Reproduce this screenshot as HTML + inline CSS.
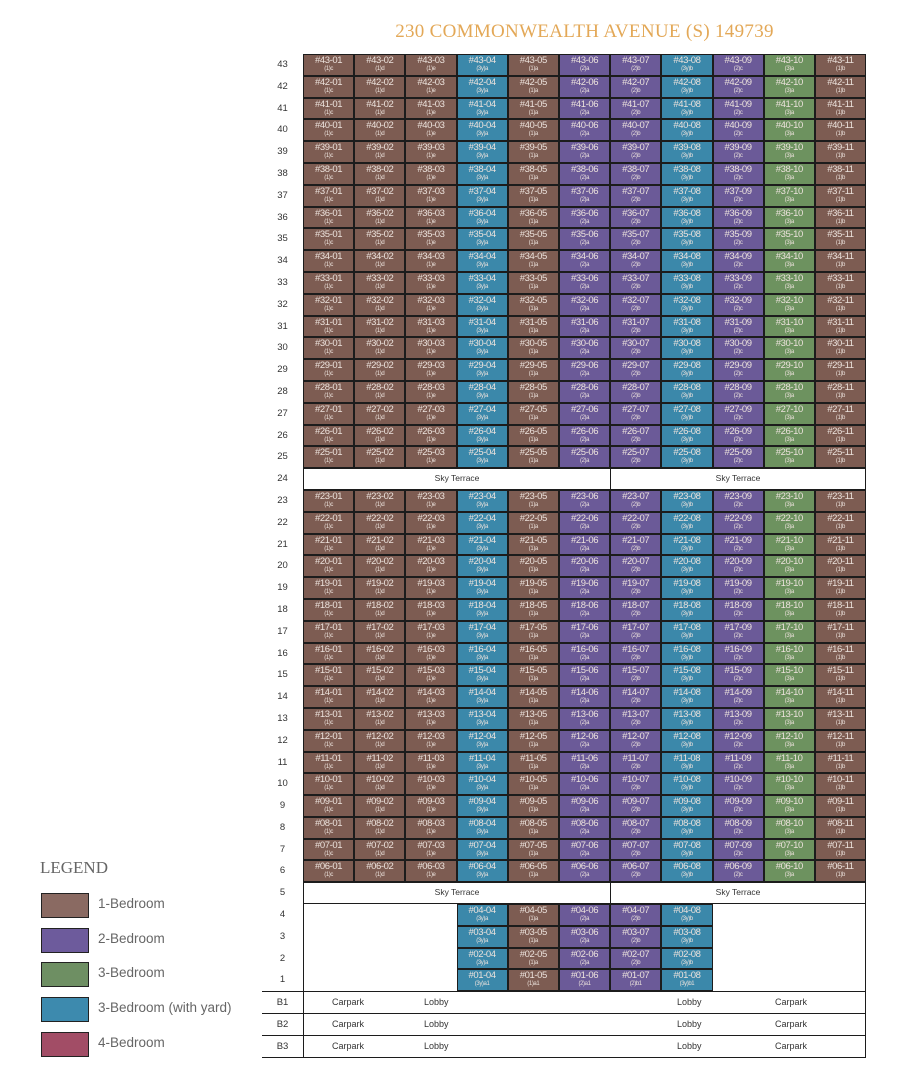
<!DOCTYPE html>
<html><head><meta charset="utf-8"><style>
body{margin:0;background:#fff;width:900px;height:1072px;position:relative;overflow:hidden;font-family:"Liberation Sans",sans-serif}
#t{position:absolute;left:303px;width:563px;top:21px;text-align:center;font-family:"Liberation Serif",serif;color:#e3a857;font-size:19px;letter-spacing:.3px}
#g{position:absolute;left:262px;top:54px;width:604px}
.r{display:flex;height:21.8px;box-sizing:border-box}
.r b{width:41px;flex:none;font-size:9.5px;font-weight:normal;color:#333;text-align:center;line-height:21px}
.r i{flex:1;box-sizing:border-box;border:1px solid #1c1c1c;font-style:normal;color:#ece2dc;font-size:9.5px;text-align:center;line-height:10px;padding-top:1px;letter-spacing:-.4px;overflow:hidden}
.r i s{display:block;text-decoration:none;font-size:6px;line-height:7px}
.a{background:#7d5c52}.p{background:#6b5a98}.g{background:#6d925f}.y{background:#3b88aa}
.sk{flex:1;display:flex;border:1px solid #1c1c1c;border-bottom:1.5px solid #1c1c1c;box-sizing:border-box}
.sk span{box-sizing:border-box;text-align:center;font-size:8.5px;color:#333;line-height:19px}
.sk span:first-child{width:307.1px;border-right:1.5px solid #1c1c1c}
.sk span:last-child{flex:1}
.r em{display:block;width:153.5px;flex:none;box-sizing:border-box}
.r em.l{border-left:1.5px solid #1c1c1c}.r em.rr{border-right:1.5px solid #1c1c1c}
.bs{border-bottom:1.5px solid #1c1c1c;position:relative;height:22.3px}
.bs b{border-right:1.5px solid #1c1c1c}
.bs div{flex:1;border-right:1.5px solid #1c1c1c;position:relative;font-size:9px;color:#333}
.bs div span{position:absolute;top:5px}
.f{border-top:1.5px solid #1c1c1c}
#lg{position:absolute;left:40px;top:858px;font-family:"Liberation Sans",sans-serif}
#lg h{display:block;font-size:17px;color:#666;font-family:"Liberation Serif",serif;margin-bottom:12px}
.li{position:absolute;left:1px;width:48px;height:25px;box-sizing:border-box;border:1.5px solid #222}
.lt{position:absolute;left:58px;font-size:13.5px;color:#666;white-space:nowrap}
</style></head><body>
<div id="t">230 COMMONWEALTH AVENUE (S) 149739</div>
<div id="g">
<div class=r><b>43</b><i class=a>#43-01<s>(1)c</s></i><i class=a>#43-02<s>(1)d</s></i><i class=a>#43-03<s>(1)e</s></i><i class=y>#43-04<s>(3y)a</s></i><i class=a>#43-05<s>(1)a</s></i><i class=p>#43-06<s>(2)a</s></i><i class=p>#43-07<s>(2)b</s></i><i class=y>#43-08<s>(3y)b</s></i><i class=p>#43-09<s>(2)c</s></i><i class=g>#43-10<s>(3)a</s></i><i class=a>#43-11<s>(1)b</s></i></div>
<div class=r><b>42</b><i class=a>#42-01<s>(1)c</s></i><i class=a>#42-02<s>(1)d</s></i><i class=a>#42-03<s>(1)e</s></i><i class=y>#42-04<s>(3y)a</s></i><i class=a>#42-05<s>(1)a</s></i><i class=p>#42-06<s>(2)a</s></i><i class=p>#42-07<s>(2)b</s></i><i class=y>#42-08<s>(3y)b</s></i><i class=p>#42-09<s>(2)c</s></i><i class=g>#42-10<s>(3)a</s></i><i class=a>#42-11<s>(1)b</s></i></div>
<div class=r><b>41</b><i class=a>#41-01<s>(1)c</s></i><i class=a>#41-02<s>(1)d</s></i><i class=a>#41-03<s>(1)e</s></i><i class=y>#41-04<s>(3y)a</s></i><i class=a>#41-05<s>(1)a</s></i><i class=p>#41-06<s>(2)a</s></i><i class=p>#41-07<s>(2)b</s></i><i class=y>#41-08<s>(3y)b</s></i><i class=p>#41-09<s>(2)c</s></i><i class=g>#41-10<s>(3)a</s></i><i class=a>#41-11<s>(1)b</s></i></div>
<div class=r><b>40</b><i class=a>#40-01<s>(1)c</s></i><i class=a>#40-02<s>(1)d</s></i><i class=a>#40-03<s>(1)e</s></i><i class=y>#40-04<s>(3y)a</s></i><i class=a>#40-05<s>(1)a</s></i><i class=p>#40-06<s>(2)a</s></i><i class=p>#40-07<s>(2)b</s></i><i class=y>#40-08<s>(3y)b</s></i><i class=p>#40-09<s>(2)c</s></i><i class=g>#40-10<s>(3)a</s></i><i class=a>#40-11<s>(1)b</s></i></div>
<div class=r><b>39</b><i class=a>#39-01<s>(1)c</s></i><i class=a>#39-02<s>(1)d</s></i><i class=a>#39-03<s>(1)e</s></i><i class=y>#39-04<s>(3y)a</s></i><i class=a>#39-05<s>(1)a</s></i><i class=p>#39-06<s>(2)a</s></i><i class=p>#39-07<s>(2)b</s></i><i class=y>#39-08<s>(3y)b</s></i><i class=p>#39-09<s>(2)c</s></i><i class=g>#39-10<s>(3)a</s></i><i class=a>#39-11<s>(1)b</s></i></div>
<div class=r><b>38</b><i class=a>#38-01<s>(1)c</s></i><i class=a>#38-02<s>(1)d</s></i><i class=a>#38-03<s>(1)e</s></i><i class=y>#38-04<s>(3y)a</s></i><i class=a>#38-05<s>(1)a</s></i><i class=p>#38-06<s>(2)a</s></i><i class=p>#38-07<s>(2)b</s></i><i class=y>#38-08<s>(3y)b</s></i><i class=p>#38-09<s>(2)c</s></i><i class=g>#38-10<s>(3)a</s></i><i class=a>#38-11<s>(1)b</s></i></div>
<div class=r><b>37</b><i class=a>#37-01<s>(1)c</s></i><i class=a>#37-02<s>(1)d</s></i><i class=a>#37-03<s>(1)e</s></i><i class=y>#37-04<s>(3y)a</s></i><i class=a>#37-05<s>(1)a</s></i><i class=p>#37-06<s>(2)a</s></i><i class=p>#37-07<s>(2)b</s></i><i class=y>#37-08<s>(3y)b</s></i><i class=p>#37-09<s>(2)c</s></i><i class=g>#37-10<s>(3)a</s></i><i class=a>#37-11<s>(1)b</s></i></div>
<div class=r><b>36</b><i class=a>#36-01<s>(1)c</s></i><i class=a>#36-02<s>(1)d</s></i><i class=a>#36-03<s>(1)e</s></i><i class=y>#36-04<s>(3y)a</s></i><i class=a>#36-05<s>(1)a</s></i><i class=p>#36-06<s>(2)a</s></i><i class=p>#36-07<s>(2)b</s></i><i class=y>#36-08<s>(3y)b</s></i><i class=p>#36-09<s>(2)c</s></i><i class=g>#36-10<s>(3)a</s></i><i class=a>#36-11<s>(1)b</s></i></div>
<div class=r><b>35</b><i class=a>#35-01<s>(1)c</s></i><i class=a>#35-02<s>(1)d</s></i><i class=a>#35-03<s>(1)e</s></i><i class=y>#35-04<s>(3y)a</s></i><i class=a>#35-05<s>(1)a</s></i><i class=p>#35-06<s>(2)a</s></i><i class=p>#35-07<s>(2)b</s></i><i class=y>#35-08<s>(3y)b</s></i><i class=p>#35-09<s>(2)c</s></i><i class=g>#35-10<s>(3)a</s></i><i class=a>#35-11<s>(1)b</s></i></div>
<div class=r><b>34</b><i class=a>#34-01<s>(1)c</s></i><i class=a>#34-02<s>(1)d</s></i><i class=a>#34-03<s>(1)e</s></i><i class=y>#34-04<s>(3y)a</s></i><i class=a>#34-05<s>(1)a</s></i><i class=p>#34-06<s>(2)a</s></i><i class=p>#34-07<s>(2)b</s></i><i class=y>#34-08<s>(3y)b</s></i><i class=p>#34-09<s>(2)c</s></i><i class=g>#34-10<s>(3)a</s></i><i class=a>#34-11<s>(1)b</s></i></div>
<div class=r><b>33</b><i class=a>#33-01<s>(1)c</s></i><i class=a>#33-02<s>(1)d</s></i><i class=a>#33-03<s>(1)e</s></i><i class=y>#33-04<s>(3y)a</s></i><i class=a>#33-05<s>(1)a</s></i><i class=p>#33-06<s>(2)a</s></i><i class=p>#33-07<s>(2)b</s></i><i class=y>#33-08<s>(3y)b</s></i><i class=p>#33-09<s>(2)c</s></i><i class=g>#33-10<s>(3)a</s></i><i class=a>#33-11<s>(1)b</s></i></div>
<div class=r><b>32</b><i class=a>#32-01<s>(1)c</s></i><i class=a>#32-02<s>(1)d</s></i><i class=a>#32-03<s>(1)e</s></i><i class=y>#32-04<s>(3y)a</s></i><i class=a>#32-05<s>(1)a</s></i><i class=p>#32-06<s>(2)a</s></i><i class=p>#32-07<s>(2)b</s></i><i class=y>#32-08<s>(3y)b</s></i><i class=p>#32-09<s>(2)c</s></i><i class=g>#32-10<s>(3)a</s></i><i class=a>#32-11<s>(1)b</s></i></div>
<div class=r><b>31</b><i class=a>#31-01<s>(1)c</s></i><i class=a>#31-02<s>(1)d</s></i><i class=a>#31-03<s>(1)e</s></i><i class=y>#31-04<s>(3y)a</s></i><i class=a>#31-05<s>(1)a</s></i><i class=p>#31-06<s>(2)a</s></i><i class=p>#31-07<s>(2)b</s></i><i class=y>#31-08<s>(3y)b</s></i><i class=p>#31-09<s>(2)c</s></i><i class=g>#31-10<s>(3)a</s></i><i class=a>#31-11<s>(1)b</s></i></div>
<div class=r><b>30</b><i class=a>#30-01<s>(1)c</s></i><i class=a>#30-02<s>(1)d</s></i><i class=a>#30-03<s>(1)e</s></i><i class=y>#30-04<s>(3y)a</s></i><i class=a>#30-05<s>(1)a</s></i><i class=p>#30-06<s>(2)a</s></i><i class=p>#30-07<s>(2)b</s></i><i class=y>#30-08<s>(3y)b</s></i><i class=p>#30-09<s>(2)c</s></i><i class=g>#30-10<s>(3)a</s></i><i class=a>#30-11<s>(1)b</s></i></div>
<div class=r><b>29</b><i class=a>#29-01<s>(1)c</s></i><i class=a>#29-02<s>(1)d</s></i><i class=a>#29-03<s>(1)e</s></i><i class=y>#29-04<s>(3y)a</s></i><i class=a>#29-05<s>(1)a</s></i><i class=p>#29-06<s>(2)a</s></i><i class=p>#29-07<s>(2)b</s></i><i class=y>#29-08<s>(3y)b</s></i><i class=p>#29-09<s>(2)c</s></i><i class=g>#29-10<s>(3)a</s></i><i class=a>#29-11<s>(1)b</s></i></div>
<div class=r><b>28</b><i class=a>#28-01<s>(1)c</s></i><i class=a>#28-02<s>(1)d</s></i><i class=a>#28-03<s>(1)e</s></i><i class=y>#28-04<s>(3y)a</s></i><i class=a>#28-05<s>(1)a</s></i><i class=p>#28-06<s>(2)a</s></i><i class=p>#28-07<s>(2)b</s></i><i class=y>#28-08<s>(3y)b</s></i><i class=p>#28-09<s>(2)c</s></i><i class=g>#28-10<s>(3)a</s></i><i class=a>#28-11<s>(1)b</s></i></div>
<div class=r><b>27</b><i class=a>#27-01<s>(1)c</s></i><i class=a>#27-02<s>(1)d</s></i><i class=a>#27-03<s>(1)e</s></i><i class=y>#27-04<s>(3y)a</s></i><i class=a>#27-05<s>(1)a</s></i><i class=p>#27-06<s>(2)a</s></i><i class=p>#27-07<s>(2)b</s></i><i class=y>#27-08<s>(3y)b</s></i><i class=p>#27-09<s>(2)c</s></i><i class=g>#27-10<s>(3)a</s></i><i class=a>#27-11<s>(1)b</s></i></div>
<div class=r><b>26</b><i class=a>#26-01<s>(1)c</s></i><i class=a>#26-02<s>(1)d</s></i><i class=a>#26-03<s>(1)e</s></i><i class=y>#26-04<s>(3y)a</s></i><i class=a>#26-05<s>(1)a</s></i><i class=p>#26-06<s>(2)a</s></i><i class=p>#26-07<s>(2)b</s></i><i class=y>#26-08<s>(3y)b</s></i><i class=p>#26-09<s>(2)c</s></i><i class=g>#26-10<s>(3)a</s></i><i class=a>#26-11<s>(1)b</s></i></div>
<div class=r><b>25</b><i class=a>#25-01<s>(1)c</s></i><i class=a>#25-02<s>(1)d</s></i><i class=a>#25-03<s>(1)e</s></i><i class=y>#25-04<s>(3y)a</s></i><i class=a>#25-05<s>(1)a</s></i><i class=p>#25-06<s>(2)a</s></i><i class=p>#25-07<s>(2)b</s></i><i class=y>#25-08<s>(3y)b</s></i><i class=p>#25-09<s>(2)c</s></i><i class=g>#25-10<s>(3)a</s></i><i class=a>#25-11<s>(1)b</s></i></div>
<div class=r><b>24</b><div class=sk><span>Sky Terrace</span><span>Sky Terrace</span></div></div>
<div class=r><b>23</b><i class=a>#23-01<s>(1)c</s></i><i class=a>#23-02<s>(1)d</s></i><i class=a>#23-03<s>(1)e</s></i><i class=y>#23-04<s>(3y)a</s></i><i class=a>#23-05<s>(1)a</s></i><i class=p>#23-06<s>(2)a</s></i><i class=p>#23-07<s>(2)b</s></i><i class=y>#23-08<s>(3y)b</s></i><i class=p>#23-09<s>(2)c</s></i><i class=g>#23-10<s>(3)a</s></i><i class=a>#23-11<s>(1)b</s></i></div>
<div class=r><b>22</b><i class=a>#22-01<s>(1)c</s></i><i class=a>#22-02<s>(1)d</s></i><i class=a>#22-03<s>(1)e</s></i><i class=y>#22-04<s>(3y)a</s></i><i class=a>#22-05<s>(1)a</s></i><i class=p>#22-06<s>(2)a</s></i><i class=p>#22-07<s>(2)b</s></i><i class=y>#22-08<s>(3y)b</s></i><i class=p>#22-09<s>(2)c</s></i><i class=g>#22-10<s>(3)a</s></i><i class=a>#22-11<s>(1)b</s></i></div>
<div class=r><b>21</b><i class=a>#21-01<s>(1)c</s></i><i class=a>#21-02<s>(1)d</s></i><i class=a>#21-03<s>(1)e</s></i><i class=y>#21-04<s>(3y)a</s></i><i class=a>#21-05<s>(1)a</s></i><i class=p>#21-06<s>(2)a</s></i><i class=p>#21-07<s>(2)b</s></i><i class=y>#21-08<s>(3y)b</s></i><i class=p>#21-09<s>(2)c</s></i><i class=g>#21-10<s>(3)a</s></i><i class=a>#21-11<s>(1)b</s></i></div>
<div class=r><b>20</b><i class=a>#20-01<s>(1)c</s></i><i class=a>#20-02<s>(1)d</s></i><i class=a>#20-03<s>(1)e</s></i><i class=y>#20-04<s>(3y)a</s></i><i class=a>#20-05<s>(1)a</s></i><i class=p>#20-06<s>(2)a</s></i><i class=p>#20-07<s>(2)b</s></i><i class=y>#20-08<s>(3y)b</s></i><i class=p>#20-09<s>(2)c</s></i><i class=g>#20-10<s>(3)a</s></i><i class=a>#20-11<s>(1)b</s></i></div>
<div class=r><b>19</b><i class=a>#19-01<s>(1)c</s></i><i class=a>#19-02<s>(1)d</s></i><i class=a>#19-03<s>(1)e</s></i><i class=y>#19-04<s>(3y)a</s></i><i class=a>#19-05<s>(1)a</s></i><i class=p>#19-06<s>(2)a</s></i><i class=p>#19-07<s>(2)b</s></i><i class=y>#19-08<s>(3y)b</s></i><i class=p>#19-09<s>(2)c</s></i><i class=g>#19-10<s>(3)a</s></i><i class=a>#19-11<s>(1)b</s></i></div>
<div class=r><b>18</b><i class=a>#18-01<s>(1)c</s></i><i class=a>#18-02<s>(1)d</s></i><i class=a>#18-03<s>(1)e</s></i><i class=y>#18-04<s>(3y)a</s></i><i class=a>#18-05<s>(1)a</s></i><i class=p>#18-06<s>(2)a</s></i><i class=p>#18-07<s>(2)b</s></i><i class=y>#18-08<s>(3y)b</s></i><i class=p>#18-09<s>(2)c</s></i><i class=g>#18-10<s>(3)a</s></i><i class=a>#18-11<s>(1)b</s></i></div>
<div class=r><b>17</b><i class=a>#17-01<s>(1)c</s></i><i class=a>#17-02<s>(1)d</s></i><i class=a>#17-03<s>(1)e</s></i><i class=y>#17-04<s>(3y)a</s></i><i class=a>#17-05<s>(1)a</s></i><i class=p>#17-06<s>(2)a</s></i><i class=p>#17-07<s>(2)b</s></i><i class=y>#17-08<s>(3y)b</s></i><i class=p>#17-09<s>(2)c</s></i><i class=g>#17-10<s>(3)a</s></i><i class=a>#17-11<s>(1)b</s></i></div>
<div class=r><b>16</b><i class=a>#16-01<s>(1)c</s></i><i class=a>#16-02<s>(1)d</s></i><i class=a>#16-03<s>(1)e</s></i><i class=y>#16-04<s>(3y)a</s></i><i class=a>#16-05<s>(1)a</s></i><i class=p>#16-06<s>(2)a</s></i><i class=p>#16-07<s>(2)b</s></i><i class=y>#16-08<s>(3y)b</s></i><i class=p>#16-09<s>(2)c</s></i><i class=g>#16-10<s>(3)a</s></i><i class=a>#16-11<s>(1)b</s></i></div>
<div class=r><b>15</b><i class=a>#15-01<s>(1)c</s></i><i class=a>#15-02<s>(1)d</s></i><i class=a>#15-03<s>(1)e</s></i><i class=y>#15-04<s>(3y)a</s></i><i class=a>#15-05<s>(1)a</s></i><i class=p>#15-06<s>(2)a</s></i><i class=p>#15-07<s>(2)b</s></i><i class=y>#15-08<s>(3y)b</s></i><i class=p>#15-09<s>(2)c</s></i><i class=g>#15-10<s>(3)a</s></i><i class=a>#15-11<s>(1)b</s></i></div>
<div class=r><b>14</b><i class=a>#14-01<s>(1)c</s></i><i class=a>#14-02<s>(1)d</s></i><i class=a>#14-03<s>(1)e</s></i><i class=y>#14-04<s>(3y)a</s></i><i class=a>#14-05<s>(1)a</s></i><i class=p>#14-06<s>(2)a</s></i><i class=p>#14-07<s>(2)b</s></i><i class=y>#14-08<s>(3y)b</s></i><i class=p>#14-09<s>(2)c</s></i><i class=g>#14-10<s>(3)a</s></i><i class=a>#14-11<s>(1)b</s></i></div>
<div class=r><b>13</b><i class=a>#13-01<s>(1)c</s></i><i class=a>#13-02<s>(1)d</s></i><i class=a>#13-03<s>(1)e</s></i><i class=y>#13-04<s>(3y)a</s></i><i class=a>#13-05<s>(1)a</s></i><i class=p>#13-06<s>(2)a</s></i><i class=p>#13-07<s>(2)b</s></i><i class=y>#13-08<s>(3y)b</s></i><i class=p>#13-09<s>(2)c</s></i><i class=g>#13-10<s>(3)a</s></i><i class=a>#13-11<s>(1)b</s></i></div>
<div class=r><b>12</b><i class=a>#12-01<s>(1)c</s></i><i class=a>#12-02<s>(1)d</s></i><i class=a>#12-03<s>(1)e</s></i><i class=y>#12-04<s>(3y)a</s></i><i class=a>#12-05<s>(1)a</s></i><i class=p>#12-06<s>(2)a</s></i><i class=p>#12-07<s>(2)b</s></i><i class=y>#12-08<s>(3y)b</s></i><i class=p>#12-09<s>(2)c</s></i><i class=g>#12-10<s>(3)a</s></i><i class=a>#12-11<s>(1)b</s></i></div>
<div class=r><b>11</b><i class=a>#11-01<s>(1)c</s></i><i class=a>#11-02<s>(1)d</s></i><i class=a>#11-03<s>(1)e</s></i><i class=y>#11-04<s>(3y)a</s></i><i class=a>#11-05<s>(1)a</s></i><i class=p>#11-06<s>(2)a</s></i><i class=p>#11-07<s>(2)b</s></i><i class=y>#11-08<s>(3y)b</s></i><i class=p>#11-09<s>(2)c</s></i><i class=g>#11-10<s>(3)a</s></i><i class=a>#11-11<s>(1)b</s></i></div>
<div class=r><b>10</b><i class=a>#10-01<s>(1)c</s></i><i class=a>#10-02<s>(1)d</s></i><i class=a>#10-03<s>(1)e</s></i><i class=y>#10-04<s>(3y)a</s></i><i class=a>#10-05<s>(1)a</s></i><i class=p>#10-06<s>(2)a</s></i><i class=p>#10-07<s>(2)b</s></i><i class=y>#10-08<s>(3y)b</s></i><i class=p>#10-09<s>(2)c</s></i><i class=g>#10-10<s>(3)a</s></i><i class=a>#10-11<s>(1)b</s></i></div>
<div class=r><b>9</b><i class=a>#09-01<s>(1)c</s></i><i class=a>#09-02<s>(1)d</s></i><i class=a>#09-03<s>(1)e</s></i><i class=y>#09-04<s>(3y)a</s></i><i class=a>#09-05<s>(1)a</s></i><i class=p>#09-06<s>(2)a</s></i><i class=p>#09-07<s>(2)b</s></i><i class=y>#09-08<s>(3y)b</s></i><i class=p>#09-09<s>(2)c</s></i><i class=g>#09-10<s>(3)a</s></i><i class=a>#09-11<s>(1)b</s></i></div>
<div class=r><b>8</b><i class=a>#08-01<s>(1)c</s></i><i class=a>#08-02<s>(1)d</s></i><i class=a>#08-03<s>(1)e</s></i><i class=y>#08-04<s>(3y)a</s></i><i class=a>#08-05<s>(1)a</s></i><i class=p>#08-06<s>(2)a</s></i><i class=p>#08-07<s>(2)b</s></i><i class=y>#08-08<s>(3y)b</s></i><i class=p>#08-09<s>(2)c</s></i><i class=g>#08-10<s>(3)a</s></i><i class=a>#08-11<s>(1)b</s></i></div>
<div class=r><b>7</b><i class=a>#07-01<s>(1)c</s></i><i class=a>#07-02<s>(1)d</s></i><i class=a>#07-03<s>(1)e</s></i><i class=y>#07-04<s>(3y)a</s></i><i class=a>#07-05<s>(1)a</s></i><i class=p>#07-06<s>(2)a</s></i><i class=p>#07-07<s>(2)b</s></i><i class=y>#07-08<s>(3y)b</s></i><i class=p>#07-09<s>(2)c</s></i><i class=g>#07-10<s>(3)a</s></i><i class=a>#07-11<s>(1)b</s></i></div>
<div class=r><b>6</b><i class=a>#06-01<s>(1)c</s></i><i class=a>#06-02<s>(1)d</s></i><i class=a>#06-03<s>(1)e</s></i><i class=y>#06-04<s>(3y)a</s></i><i class=a>#06-05<s>(1)a</s></i><i class=p>#06-06<s>(2)a</s></i><i class=p>#06-07<s>(2)b</s></i><i class=y>#06-08<s>(3y)b</s></i><i class=p>#06-09<s>(2)c</s></i><i class=g>#06-10<s>(3)a</s></i><i class=a>#06-11<s>(1)b</s></i></div>
<div class=r><b>5</b><div class=sk><span>Sky Terrace</span><span>Sky Terrace</span></div></div>
<div class=r><b>4</b><em class=l></em><i class=y>#04-04<s>(3y)a</s></i><i class=a>#04-05<s>(1)a</s></i><i class=p>#04-06<s>(2)a</s></i><i class=p>#04-07<s>(2)b</s></i><i class=y>#04-08<s>(3y)b</s></i><em class=rr></em></div>
<div class=r><b>3</b><em class=l></em><i class=y>#03-04<s>(3y)a</s></i><i class=a>#03-05<s>(1)a</s></i><i class=p>#03-06<s>(2)a</s></i><i class=p>#03-07<s>(2)b</s></i><i class=y>#03-08<s>(3y)b</s></i><em class=rr></em></div>
<div class=r><b>2</b><em class=l></em><i class=y>#02-04<s>(3y)a</s></i><i class=a>#02-05<s>(1)a</s></i><i class=p>#02-06<s>(2)a</s></i><i class=p>#02-07<s>(2)b</s></i><i class=y>#02-08<s>(3y)b</s></i><em class=rr></em></div>
<div class=r><b>1</b><em class=l></em><i class=y>#01-04<s>(3y)a1</s></i><i class=a>#01-05<s>(1)a1</s></i><i class=p>#01-06<s>(2)a1</s></i><i class=p>#01-07<s>(2)b1</s></i><i class=y>#01-08<s>(3y)b1</s></i><em class=rr></em></div>
<div class="r bs f"><b>B1</b><div><span style="left:28px">Carpark</span><span style="left:120px">Lobby</span><span style="left:373px">Lobby</span><span style="left:471px">Carpark</span></div></div>
<div class="r bs"><b>B2</b><div><span style="left:28px">Carpark</span><span style="left:120px">Lobby</span><span style="left:373px">Lobby</span><span style="left:471px">Carpark</span></div></div>
<div class="r bs"><b>B3</b><div><span style="left:28px">Carpark</span><span style="left:120px">Lobby</span><span style="left:373px">Lobby</span><span style="left:471px">Carpark</span></div></div>
</div>
<div id="lg"><h>LEGEND</h>
<div class=li style="top:35px;background:#8a6a62"></div><div class=lt style="top:38px">1-Bedroom</div>
<div class=li style="top:70px;background:#6d5b9c"></div><div class=lt style="top:73px">2-Bedroom</div>
<div class=li style="top:104px;background:#6e8f63"></div><div class=lt style="top:107px">3-Bedroom</div>
<div class=li style="top:139px;background:#3d8aae"></div><div class=lt style="top:142px">3-Bedroom (with yard)</div>
<div class=li style="top:174px;background:#a24d66"></div><div class=lt style="top:177px">4-Bedroom</div>
</div>
</body></html>
